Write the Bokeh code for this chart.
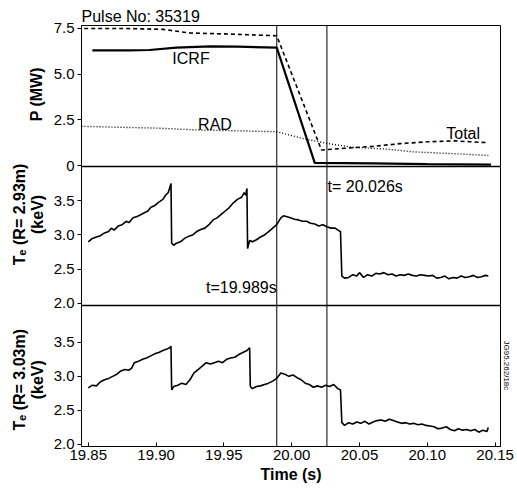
import math
from bokeh.plotting import figure
from bokeh.layouts import row
from bokeh.models import (Range1d, FixedTicker, Span, Label, ColumnDataSource,
                          CustomJSTickFormatter, Title)
from bokeh.core.properties import value
from bokeh.embed import file_html
from bokeh.resources import INLINE

# ---------------- data ----------------
pulse_title = "Pulse No: 35319"

total_t = [19.847, 19.875, 19.905, 19.925, 19.950, 19.970, 19.989, 20.022, 20.040, 20.060, 20.080, 20.100, 20.120, 20.145]
total_p = [7.50, 7.50, 7.45, 7.25, 7.20, 7.15, 7.10, 0.85, 0.95, 1.05, 1.20, 1.30, 1.35, 1.25]

icrf_t = [19.853, 19.880, 19.895, 19.915, 19.940, 19.960, 19.989, 20.017, 20.060, 20.100, 20.147]
icrf_p = [6.30, 6.30, 6.32, 6.45, 6.52, 6.50, 6.45, 0.15, 0.12, 0.08, 0.05]

rad_t = [19.845, 19.870, 19.900, 19.930, 19.960, 19.989, 20.010, 20.027, 20.045, 20.070, 20.090, 20.120, 20.145]
rad_p = [2.15, 2.10, 2.05, 1.95, 1.90, 1.85, 1.45, 1.20, 1.00, 0.90, 0.75, 0.65, 0.55]

te293_t = [19.850, 19.853, 19.856, 19.859, 19.862, 19.865, 19.867, 19.869, 19.872, 19.875,
           19.878, 19.880, 19.883, 19.886, 19.889, 19.891, 19.894, 19.896, 19.899, 19.902,
           19.905, 19.907, 19.909, 19.9105, 19.911, 19.9115, 19.913, 19.915, 19.918, 19.921,
           19.924, 19.927, 19.930, 19.933, 19.936, 19.939, 19.942, 19.945, 19.948, 19.951,
           19.954, 19.957, 19.960, 19.963, 19.965, 19.966, 19.967, 19.9675, 19.969, 19.971,
           19.974, 19.977, 19.980, 19.983, 19.986, 19.989, 19.992, 19.994, 19.996, 19.999,
           20.002, 20.005, 20.008, 20.011, 20.014, 20.017, 20.020, 20.023, 20.026, 20.029,
           20.032, 20.035, 20.036, 20.037, 20.039, 20.042, 20.045, 20.048, 20.050, 20.053,
           20.056, 20.059, 20.062, 20.065, 20.068, 20.071, 20.074, 20.077, 20.080, 20.083,
           20.086, 20.089, 20.092, 20.095, 20.098, 20.101, 20.104, 20.107, 20.110, 20.113,
           20.116, 20.119, 20.122, 20.125, 20.128, 20.131, 20.134, 20.137, 20.140, 20.143,
           20.145]
te293_v = [2.90, 2.95, 2.97, 2.99, 3.03, 3.05, 3.10, 3.07, 3.13, 3.15,
           3.20, 3.18, 3.25, 3.27, 3.30, 3.32, 3.35, 3.40, 3.43, 3.48,
           3.52, 3.58, 3.62, 3.72, 3.75, 2.88, 2.85, 2.88, 2.90, 2.95,
           2.98, 3.00, 3.05, 3.08, 3.10, 3.15, 3.22, 3.25, 3.30, 3.35,
           3.40, 3.47, 3.52, 3.55, 3.62, 3.58, 3.68, 2.80, 2.92, 2.90,
           2.93, 2.97, 3.00, 3.05, 3.10, 3.15, 3.25, 3.28, 3.27, 3.25,
           3.23, 3.22, 3.20, 3.20, 3.17, 3.16, 3.13, 3.15, 3.12, 3.10,
           3.10, 3.06, 3.05, 2.40, 2.37, 2.38, 2.42, 2.40, 2.45, 2.38,
           2.42, 2.40, 2.44, 2.43, 2.45, 2.42, 2.43, 2.40, 2.42, 2.41,
           2.43, 2.41, 2.40, 2.42, 2.41, 2.40, 2.41, 2.37, 2.38, 2.40,
           2.36, 2.38, 2.37, 2.40, 2.38, 2.39, 2.41, 2.38, 2.39, 2.41,
           2.40]

te303_t = [19.850, 19.853, 19.856, 19.859, 19.862, 19.865, 19.868, 19.871, 19.874, 19.877,
           19.880, 19.882, 19.884, 19.887, 19.890, 19.893, 19.896, 19.899, 19.902, 19.905,
           19.908, 19.910, 19.911, 19.9115, 19.913, 19.916, 19.919, 19.922, 19.925, 19.928,
           19.931, 19.934, 19.937, 19.940, 19.943, 19.946, 19.949, 19.952, 19.955, 19.958,
           19.961, 19.964, 19.967, 19.969, 19.9695, 19.971, 19.974, 19.977, 19.980, 19.983,
           19.986, 19.989, 19.992, 19.995, 19.998, 20.001, 20.004, 20.007, 20.010, 20.013,
           20.016, 20.019, 20.022, 20.025, 20.028, 20.031, 20.034, 20.036, 20.037, 20.039,
           20.042, 20.045, 20.048, 20.051, 20.054, 20.057, 20.060, 20.063, 20.066, 20.069,
           20.072, 20.075, 20.078, 20.081, 20.084, 20.087, 20.090, 20.093, 20.096, 20.099,
           20.102, 20.105, 20.108, 20.111, 20.114, 20.117, 20.120, 20.123, 20.126, 20.129,
           20.132, 20.135, 20.138, 20.141, 20.144, 20.145]
te303_v = [2.83, 2.87, 2.86, 2.92, 2.95, 2.97, 3.00, 3.03, 3.08, 3.10,
           3.09, 3.12, 3.20, 3.22, 3.25, 3.27, 3.30, 3.33, 3.35, 3.38,
           3.40, 3.42, 3.44, 2.80, 2.85, 2.87, 2.90, 2.88, 2.95, 3.05,
           3.10, 3.15, 3.20, 3.18, 3.20, 3.22, 3.20, 3.25, 3.27, 3.28,
           3.32, 3.35, 3.38, 3.42, 2.85, 2.82, 2.85, 2.86, 2.88, 2.90,
           2.93, 2.97, 3.05, 3.03, 3.00, 3.02, 2.98, 2.95, 2.90, 2.88,
           2.84, 2.86, 2.84, 2.87, 2.85, 2.88, 2.82, 2.80, 2.32, 2.28,
           2.32, 2.30, 2.33, 2.31, 2.34, 2.30, 2.33, 2.35, 2.36, 2.34,
           2.37, 2.35, 2.33, 2.31, 2.32, 2.30, 2.31, 2.29, 2.30, 2.28,
           2.27, 2.26, 2.23, 2.24, 2.26, 2.22, 2.20, 2.23, 2.21, 2.22,
           2.20, 2.22, 2.18, 2.21, 2.19, 2.25]

event_times = [19.989, 20.026]
x_ticks = [19.85, 19.90, 19.95, 20.00, 20.05, 20.10, 20.15]
x_tick_labels = ["19.85", "19.90", "19.95", "20.00", "20.05", "20.10", "20.15"]
p_ticks = [0, 2.5, 5.0, 7.5]
p_tick_labels = ["0", "2.5", "5.0", "7.5"]
te_ticks = [2.0, 2.5, 3.0, 3.5]
te_tick_labels = ["2.0", "2.5", "3.0", "3.5"]

top_text = ["ICRF", "RAD", "Total"]
top_text_x = [19.912, 19.931, 20.114]
top_text_y = [5.85, 2.24, 1.75]

panel_titles = ["P (MW)", "Tₑ (R= 2.93m)\n(keV)", "Tₑ (R= 3.03m)\n(keV)"]
side_note = "JG95.262/18c"

# panel limits (data) and panel heights (px, top to bottom)
p_lim = (-0.05, 7.66)
te293_lim = (1.97, 4.0)
te303_lim = (1.97, 4.04)
panel_px = [141, 139, 141]

FONT = "Liberation Sans"
LAB_W = 48
LEFT = 33
FRAME_W = 419
RIGHT = 14
TOP = 25
BOTTOM = 42
frame_h = sum(panel_px)
H = TOP + frame_h + BOTTOM

# fractions of the frame occupied by each panel (from bottom)
f_bot = (0.0, panel_px[2] / frame_h)
f_mid = (panel_px[2] / frame_h, (panel_px[2] + panel_px[1]) / frame_h)
f_top = ((panel_px[2] + panel_px[1]) / frame_h, 1.0)


def panel_range(lim, frac):
    lo, hi = lim
    scale = (hi - lo) / (frac[1] - frac[0])
    start = lo - frac[0] * scale
    return Range1d(start, start + scale)


def to_frac(v, lim, frac):
    return frac[0] + (v - lim[0]) / (lim[1] - lim[0]) * (frac[1] - frac[0])


# ---------------- narrow figure holding the panel axis titles ----------------
lab = figure(width=LAB_W, height=H, x_range=Range1d(0, 1), y_range=Range1d(0, 1),
             output_backend="svg", toolbar_location=None,
             min_border_left=0, min_border_right=0, min_border_top=TOP, min_border_bottom=BOTTOM)
lab.axis.visible = False
lab.grid.visible = False
lab.outline_line_color = None
lab.background_fill_color = "white"
lab.border_fill_color = "white"
lab_src = ColumnDataSource(dict(
    x=[0.74, 0.58, 0.58],
    y=[to_frac(3.9, p_lim, f_top), to_frac(3.3, te293_lim, f_mid), to_frac(2.95, te303_lim, f_bot)],
    t=panel_titles,
    s=["16px", "16px", "16px"]))
lab.text(x="x", y="y", text="t", source=lab_src, angle=math.pi / 2,
         text_font=value(FONT), text_font_size="s", text_font_style="bold",
         text_align="center", text_baseline="middle", text_color="black",
         text_line_height=1.05)

# ---------------- main figure ----------------
p = figure(width=LEFT + FRAME_W + RIGHT, height=H,
           x_range=Range1d(19.845, 20.154), y_range=Range1d(0, 1),
           output_backend="svg", toolbar_location=None,
           min_border_left=LEFT, min_border_right=RIGHT,
           min_border_top=TOP, min_border_bottom=BOTTOM)
p.extra_y_ranges = {
    "pow": panel_range(p_lim, f_top),
    "mid": panel_range(te293_lim, f_mid),
    "bot": panel_range(te303_lim, f_bot),
}

p.title.text = pulse_title
p.title.text_font = FONT
p.title.text_font_size = "16px"
p.title.text_font_style = "normal"
p.title.text_color = "black"
p.title.align = "left"
p.title.offset = 0
p.title.standoff = 1

p.outline_line_color = "black"
p.outline_line_width = 1
p.xgrid.visible = False
p.ygrid.visible = False
p.background_fill_color = "white"
p.border_fill_color = "white"

# y axis: ticks of all three panels on one axis line
ytick_pos = ([to_frac(v, te303_lim, f_bot) for v in te_ticks] +
             [to_frac(v, te293_lim, f_mid) for v in te_ticks] +
             [to_frac(v, p_lim, f_top) for v in p_ticks])
ytick_lab = te_tick_labels + te_tick_labels + p_tick_labels
ya = p.yaxis[0]
ya.ticker = FixedTicker(ticks=ytick_pos, minor_ticks=[])
ya.formatter = CustomJSTickFormatter(args=dict(labels=ytick_lab), code="return labels[index];")
ya.major_label_text_font = FONT
ya.major_label_text_font_size = "15px"
ya.major_label_text_color = "black"
ya.major_label_standoff = 3
ya.axis_line_color = "black"
ya.major_tick_line_color = "black"
ya.major_tick_out = 4
ya.major_tick_in = 0
ya.minor_tick_line_color = None

xa = p.xaxis[0]
xa.ticker = FixedTicker(ticks=x_ticks, minor_ticks=[])
xa.major_label_overrides = {t: l for t, l in zip(x_ticks, x_tick_labels)}
xa.major_label_text_font = FONT
xa.major_label_text_font_size = "15px"
xa.major_label_text_color = "black"
xa.axis_label = "Time (s)"
xa.axis_label_text_font = FONT
xa.axis_label_text_font_size = "16px"
xa.axis_label_text_font_style = "bold"
xa.axis_label_text_color = "black"
xa.axis_label_standoff = 3
xa.major_label_standoff = 3
xa.major_tick_in = 4
xa.major_tick_out = 0
xa.minor_tick_line_color = None
xa.axis_line_color = "black"

# small reference note on the right side
p.add_layout(Title(text=side_note, text_font=FONT, text_font_size="8px", text_color="black",
                   text_font_style="normal", align="left", offset=315, standoff=2), "right")

# panel separators and event lines
for f in (f_mid[0], f_top[0]):
    p.add_layout(Span(location=f, dimension="width", line_color="black", line_width=1.3))
for s in event_times:
    p.add_layout(Span(location=s, dimension="height", line_color="black", line_width=1))

# power traces
p.line(total_t, total_p, y_range_name="pow", line_color="black", line_width=1.6, line_dash="4 3")
p.line(icrf_t, icrf_p, y_range_name="pow", line_color="black", line_width=2.2)
p.line(rad_t, rad_p, y_range_name="pow", line_color="black", line_width=1.4, line_dash="1 2")
src = ColumnDataSource(dict(x=top_text_x, y=top_text_y, t=top_text))
p.text(x="x", y="y", text="t", source=src, y_range_name="pow", text_font=value(FONT),
       text_font_size="16px", text_align="left", text_baseline="middle", text_color="black")

# Te traces
p.line(te293_t, te293_v, y_range_name="mid", line_color="black", line_width=1.6)
p.line(te303_t, te303_v, y_range_name="bot", line_color="black", line_width=1.6)

p.add_layout(Label(x=20.0265, y=3.71, y_range_name="mid", text="t= 20.026s", text_font=FONT,
                   text_font_size="16px", text_align="left", text_baseline="middle",
                   text_color="black"))
p.add_layout(Label(x=19.989, y=2.24, y_range_name="mid", text="t=19.989s", text_font=FONT,
                   text_font_size="16px", text_align="right", text_baseline="middle",
                   text_color="black"))

layout = row(lab, p, spacing=0)
open("out.html", "w").write(file_html(layout, INLINE))
